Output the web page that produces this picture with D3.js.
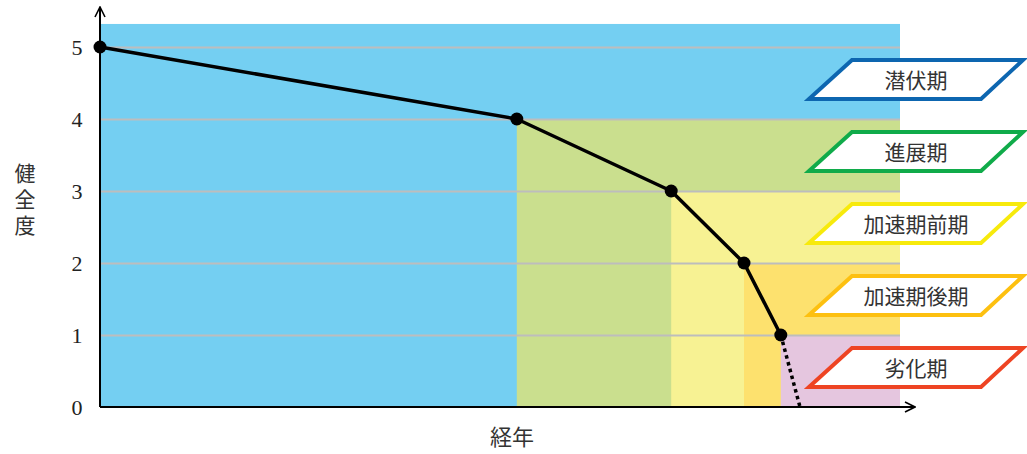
<!DOCTYPE html>
<html>
<head>
<meta charset="utf-8">
<script src="https://cdn.jsdelivr.net/npm/d3@7"></script>
<style>
  body { margin: 0; background: #fff; }
  .num { font-family: "Liberation Serif", "DejaVu Serif", serif; }
  .jp { font-family: "Noto Sans CJK JP", sans-serif; }
</style>
</head>
<body>
<div id="chart"></div>
<script>
// data
var years = [0, 52.1, 71.4, 80.5, 85.1];
var health = [5, 4, 3, 2, 1];
var dottedEnd = [85.1, 87.5];   // extrapolation of the last segment (year)
var dottedVal = [1, 0];

var stages = ["潜伏期", "進展期", "加速期前期", "加速期後期", "劣化期"];
var stageStart = [0, 52.1, 71.4, 80.5, 85.1];
var stageTop = [5.32, 4, 3, 2, 1];
var stageFill = ["#74cff2", "#cadf8e", "#f7f293", "#fde16e", "#e5c6df"];
var stageEdge = ["#0d66b0", "#10ab4a", "#f7ea0c", "#fdc010", "#ee4423"];
var yTicks = [0, 1, 2, 3, 4, 5];

// set the dimensions
var width = 1027, height = 454;

var svg = d3.select("#chart")
    .append("svg")
    .attr("width", width)
    .attr("height", height);

var x = d3.scaleLinear().domain([0, 100]).range([100, 900]);
var y = d3.scaleLinear().domain([0, 5]).range([407, 47]);

// stage background areas
svg.append("g")
    .selectAll("rect")
    .data(stages)
    .enter()
    .append("rect")
    .attr("x", (d, i) => x(stageStart[i]))
    .attr("y", (d, i) => y(stageTop[i]))
    .attr("width", (d, i) => x(100) - x(stageStart[i]))
    .attr("height", (d, i) => y(0) - y(stageTop[i]))
    .style("fill", (d, i) => stageFill[i]);

// grid lines
var grid = svg.append("g")
    .attr("transform", "translate(" + x(0) + ",0)")
    .call(d3.axisRight(y).tickValues(yTicks.slice(1)).tickSize(x(100) - x(0)).tickFormat(""));
grid.select(".domain").remove();
grid.selectAll("line").attr("stroke", "#bdbdbd").attr("stroke-width", 2);

// y tick labels
svg.append("g")
    .selectAll("text")
    .data(yTicks)
    .enter()
    .append("text")
    .attr("class", "num")
    .attr("x", 77)
    .attr("y", d => y(d) + 8)
    .attr("text-anchor", "middle")
    .style("font-family", "'Liberation Serif', 'DejaVu Serif', serif")
    .style("font-size", "22px")
    .style("fill", "#222")
    .text(d => d);

// axes with arrows
svg.append("defs").append("marker")
    .attr("id", "arrow")
    .attr("viewBox", "0 0 12 12")
    .attr("refX", 11).attr("refY", 6)
    .attr("markerWidth", 12).attr("markerHeight", 12)
    .attr("markerUnits", "userSpaceOnUse")
    .attr("orient", "auto")
    .append("path")
    .attr("d", "M1,1 L11,6 L1,11")
    .attr("fill", "none")
    .attr("stroke", "#000")
    .attr("stroke-width", 1.6);

svg.append("line")
    .attr("x1", x(0)).attr("y1", y(0))
    .attr("x2", 915).attr("y2", y(0))
    .attr("stroke", "#000").attr("stroke-width", 2)
    .attr("marker-end", "url(#arrow)");
svg.append("line")
    .attr("x1", x(0)).attr("y1", y(0))
    .attr("x2", x(0)).attr("y2", 7)
    .attr("stroke", "#000").attr("stroke-width", 2)
    .attr("marker-end", "url(#arrow)");

// health line
var pts = years.map((d, i) => [x(d), y(health[i])]);
svg.append("path")
    .attr("d", d3.line()(pts))
    .attr("fill", "none")
    .attr("stroke", "#000")
    .attr("stroke-width", 3.5)
    .attr("stroke-linejoin", "round");

svg.append("path")
    .attr("d", d3.line()(dottedEnd.map((d, i) => [x(d), y(dottedVal[i])])))
    .attr("fill", "none")
    .attr("stroke", "#000")
    .attr("stroke-width", 3.5)
    .attr("stroke-dasharray", "3.5,3.5");

svg.append("g")
    .selectAll("circle")
    .data(pts)
    .enter()
    .append("circle")
    .attr("cx", d => d[0])
    .attr("cy", d => d[1])
    .attr("r", 6.5)
    .style("fill", "#000");

// legend parallelograms
var legend = svg.append("g")
    .selectAll("g")
    .data(stages)
    .enter()
    .append("g")
    .attr("transform", (d, i) => "translate(0," + (60 + i * 72) + ")");

legend.append("path")
    .attr("d", "M852,0 L1023,0 L981,39 L809,39 Z")
    .attr("fill", "#fff")
    .attr("stroke", (d, i) => stageEdge[i])
    .attr("stroke-width", 4)
    .attr("stroke-linejoin", "miter");

legend.append("text")
    .attr("class", "jp")
    .attr("x", 916)
    .attr("y", 28)
    .attr("text-anchor", "middle")
    .style("font-size", "21px")
    .style("fill", "#333")
    .text(d => d);

// axis titles
svg.append("text")
    .attr("class", "jp")
    .attr("x", 512)
    .attr("y", 445)
    .attr("text-anchor", "middle")
    .style("font-size", "22px")
    .style("fill", "#333")
    .text("経年");

svg.append("text")
    .attr("class", "jp")
    .attr("x", 25)
    .attr("y", 202)
    .attr("text-anchor", "middle")
    .style("writing-mode", "vertical-rl")
    .style("text-orientation", "upright")
    .style("letter-spacing", "5px")
    .style("font-size", "21px")
    .style("fill", "#333")
    .text("健全度");
</script>
</body>
</html>
